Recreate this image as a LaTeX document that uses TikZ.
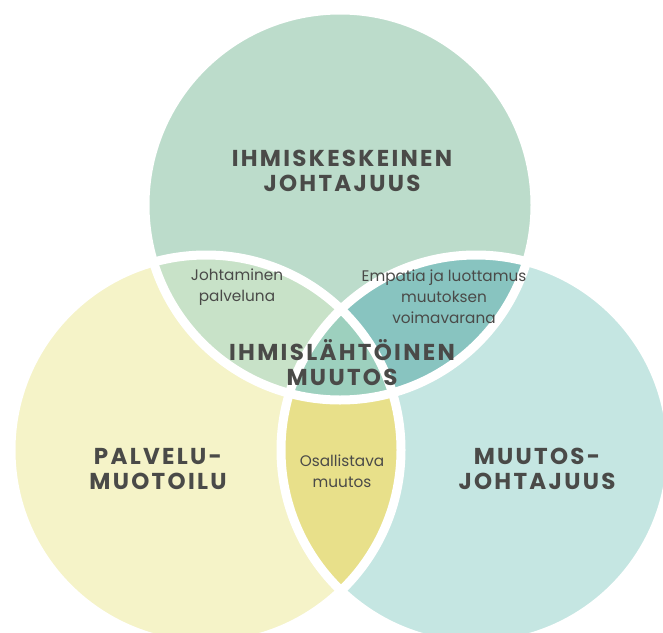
\documentclass[tikz,border=0pt]{standalone}
\usepackage{fontspec}
\setmainfont{Poppins}
\newfontfamily\headfont[LetterSpace=10]{Poppins}

\definecolor{ink}{HTML}{4A4A48}
\definecolor{topfill}{HTML}{BCDCCB}
\definecolor{leftfill}{HTML}{F5F3C8}
\definecolor{rightfill}{HTML}{C5E6E2}
\definecolor{tlfill}{HTML}{C8E2C8}
\definecolor{trfill}{HTML}{88C4C0}
\definecolor{lrfill}{HTML}{E8E08A}
\definecolor{midfill}{HTML}{9DD0BE}

\tikzset{
  head/.style={font=\headfont\bfseries\fontsize{23}{25}\selectfont, text=ink, align=center, inner sep=0pt},
  note/.style={font=\fontsize{15.3}{21}\selectfont, text=ink, align=center, inner sep=0pt},
  gap/.style={draw=white, line width=9pt},
  rad/.style={radius=195pt},
}

\begin{document}
\begin{tikzpicture}[x=1pt,y=-1pt]
  \clip (0,0) rectangle (663,632);
  \coordinate (T) at (340,205);
  \coordinate (L) at (206,450);
  \coordinate (R) at (476,450);

  % the three sets
  \fill[topfill]   (T) circle[rad];
  \fill[leftfill]  (L) circle[rad];
  \fill[rightfill] (R) circle[rad];

  % pairwise overlaps
  \begin{scope}
    \clip (T) circle[rad];
    \fill[tlfill] (L) circle[rad];
    \fill[trfill] (R) circle[rad];
  \end{scope}
  \begin{scope}
    \clip (L) circle[rad];
    \fill[lrfill] (R) circle[rad];
  \end{scope}
  % common core
  \begin{scope}
    \clip (T) circle[rad];
    \clip (L) circle[rad];
    \fill[midfill] (R) circle[rad];
  \end{scope}

  % white separating rims
  \draw[gap] (T) circle[rad];
  \draw[gap] (L) circle[rad];
  \draw[gap] (R) circle[rad];

  % labels
  \node[head] (ihk) at (342,171) {IHMISKESKEINEN\\JOHTAJUUS};
  \node[head] (pm)  at (158,469) {PALVELU-\\MUOTOILU};
  \node[head] (mj)  at (537,469) {MUUTOS-\\JOHTAJUUS};
  \node[head] (ihm) at (342,363) {IHMISLÄHTÖINEN\\MUUTOS};
  \node[note] (jp)  at (237,287) {Johtaminen\\palveluna};
  \node[note] (el)  at (444,297) {Empatia ja luottamus\\muutoksen\\voimavarana};
  \node[note] (om)  at (342,471) {Osallistava\\muutos};
\end{tikzpicture}
\end{document}
